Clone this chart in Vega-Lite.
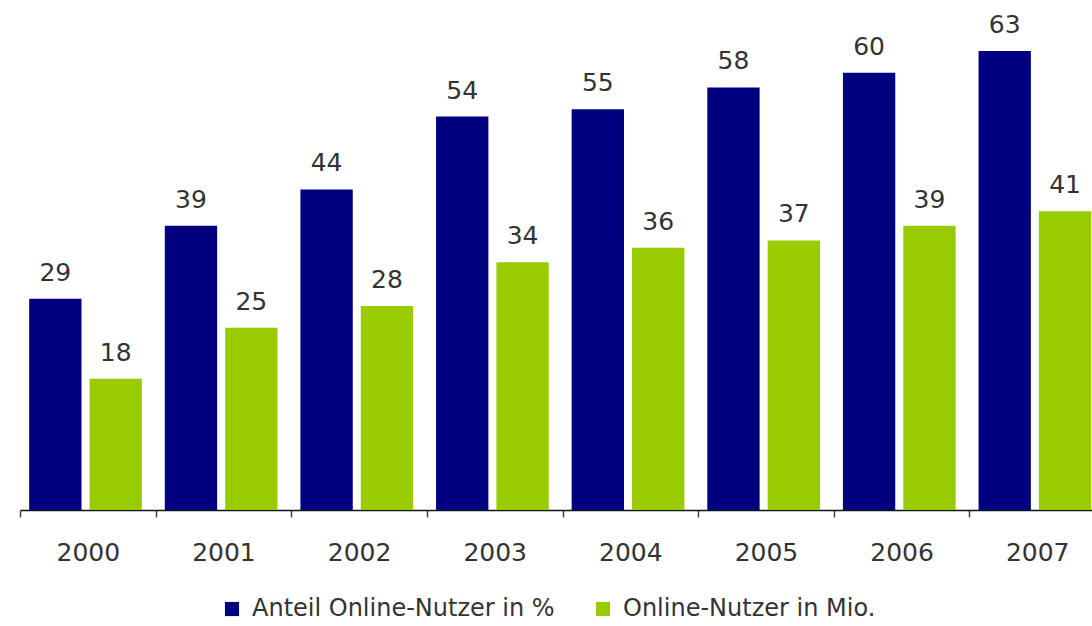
{
  "$schema": "https://vega.github.io/schema/vega-lite/v6.json",
  "width": 1072,
  "height": 510,
  "autosize": {"type": "none"},
  "padding": {"left": 20, "top": 0, "right": 0, "bottom": 116},
  "background": "white",
  "config": {"view": {"stroke": null}, "font": "DejaVu Sans"},
  "data": {
    "values": [
      {"year": "2000", "series": "Anteil Online-Nutzer in %", "value": 29},
      {"year": "2001", "series": "Anteil Online-Nutzer in %", "value": 39},
      {"year": "2002", "series": "Anteil Online-Nutzer in %", "value": 44},
      {"year": "2003", "series": "Anteil Online-Nutzer in %", "value": 54},
      {"year": "2004", "series": "Anteil Online-Nutzer in %", "value": 55},
      {"year": "2005", "series": "Anteil Online-Nutzer in %", "value": 58},
      {"year": "2006", "series": "Anteil Online-Nutzer in %", "value": 60},
      {"year": "2007", "series": "Anteil Online-Nutzer in %", "value": 63},
      {"year": "2000", "series": "Online-Nutzer in Mio.", "value": 18},
      {"year": "2001", "series": "Online-Nutzer in Mio.", "value": 25},
      {"year": "2002", "series": "Online-Nutzer in Mio.", "value": 28},
      {"year": "2003", "series": "Online-Nutzer in Mio.", "value": 34},
      {"year": "2004", "series": "Online-Nutzer in Mio.", "value": 36},
      {"year": "2005", "series": "Online-Nutzer in Mio.", "value": 37},
      {"year": "2006", "series": "Online-Nutzer in Mio.", "value": 39},
      {"year": "2007", "series": "Online-Nutzer in Mio.", "value": 41}
    ]
  },
  "encoding": {
    "x": {
      "field": "year",
      "type": "ordinal",
      "scale": {"range": [0, 1085], "paddingInner": 0, "paddingOuter": 0},
      "axis": {
        "title": null,
        "labelAngle": 0,
        "labelFontSize": 25,
        "labelColor": "#333333",
        "labelPadding": 23,
        "domainColor": "#111111",
        "domainWidth": 1.5,
        "tickColor": "#444444",
        "tickSize": 7,
        "tickWidth": 1.5,
        "tickBand": "extent"
      }
    },
    "xOffset": {
      "field": "series",
      "type": "nominal",
      "scale": {"domain": ["Anteil Online-Nutzer in %", "Online-Nutzer in Mio."], "paddingInner": 0.133, "paddingOuter": 0.19, "align": 0.4}
    },
    "y": {
      "field": "value",
      "type": "quantitative",
      "scale": {"domain": [0, 70], "nice": false},
      "axis": null
    }
  },
  "layer": [
    {
      "mark": {"type": "bar", "clip": true},
      "encoding": {
        "color": {
          "field": "series",
          "type": "nominal",
          "scale": {"domain": ["Anteil Online-Nutzer in %", "Online-Nutzer in Mio."], "range": ["#000080", "#99cc00"]},
          "legend": {
            "title": null,
            "orient": "none",
            "legendX": 200,
            "legendY": 597,
            "direction": "horizontal",
            "symbolType": "square",
            "symbolSize": 200,
            "symbolStrokeWidth": 0,
            "labelFontSize": 24,
            "labelLimit": 500,
            "labelColor": "#333333",
            "labelOffset": 8,
            "columnPadding": 36
          }
        }
      }
    },
    {
      "mark": {"type": "text", "baseline": "bottom", "dy": -13, "fontSize": 25, "color": "#333333"},
      "encoding": {"text": {"field": "value", "type": "quantitative"}}
    }
  ]
}
